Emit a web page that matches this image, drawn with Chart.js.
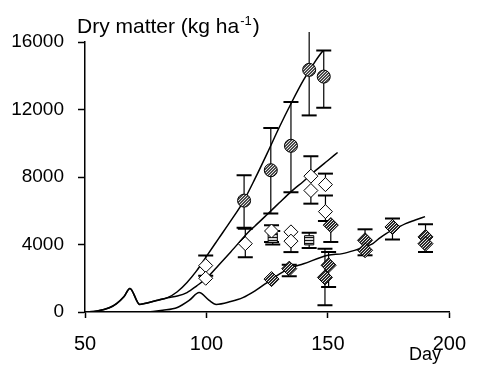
<!DOCTYPE html>
<html>
<head>
<meta charset="utf-8">
<script src="https://cdn.jsdelivr.net/npm/chart.js@4.4.1/dist/chart.umd.min.js"></script>
<style>
  html, body { margin: 0; padding: 0; background: #fff; }
  #wrap { width: 480px; height: 368px; }
</style>
</head>
<body>
<div id="wrap"><canvas id="chart" width="480" height="368"></canvas></div>
<script>
// fitted growth curves
const lineADays = [50, 55, 60, 63, 66, 68.5, 72.5, 76, 80, 84, 88, 92, 96, 100, 105, 110, 115, 120, 125, 130, 135, 140, 145, 148];
const lineADM   = [0, 60, 250, 500, 900, 1400, 450, 550, 700, 850, 1200, 1750, 2450, 3300, 4350, 5400, 6500, 7900, 9400, 10950, 12400, 13750, 14900, 15500];
const lineBDays = [50, 55, 60, 63, 66, 68.5, 72.5, 76, 80, 84, 88, 92, 96, 100, 105, 110, 118, 120, 125, 130, 135, 140, 145, 150, 154];
const lineBDM   = [0, 60, 250, 500, 900, 1400, 450, 550, 700, 850, 950, 1150, 1550, 2000, 2770, 3560, 4840, 5100, 5780, 6470, 7150, 7750, 8390, 8980, 9450];
const lineCDays = [76, 82, 88, 93, 97, 101, 104, 110, 115, 120, 126, 130, 134, 140, 150, 156, 161, 165, 168.5, 171, 174, 178, 182, 186, 190];
const lineCDM   = [0, 100, 270, 700, 1150, 700, 450, 620, 850, 1250, 1850, 2250, 2570, 2860, 3360, 3460, 3650, 3850, 4050, 4350, 4650, 4950, 5240, 5450, 5650];

// observations (filled circles)
const circDays = [115.5, 126.5, 134.8, 142.3, 148.3];
const circDM   = [6600, 8400, 9850, 14350, 13950];
const circLo   = [5000, 5830, 7100, 11650, 12100];
const circHi   = [8100, 10900, 12450, 16600, 15500];

// observations (open diamonds)
const diamDays = [99.7, 99.7, 116, 126.8, 134.8, 134.8, 143, 143, 149, 149];
const diamDM   = [2750, 2000, 4050, 4800, 4750, 4200, 8050, 7200, 7550, 5950];
const diamLo   = [2150, null, 3250, 4150, null, 3550, null, 6420, null, 5400];
const diamHi   = [3350, null, 4940, 5140, null, null, 9230, null, 8200, 6900];

// observations (hatched squares)
const hatchDays = [127.3, 142.3];
const hatchDM   = [4400, 4250];
const hatchLo   = [4000, 3800];
const hatchHi   = [4800, 4700];

// observations (dark diamonds)
const darkDays = [126.8, 134.1, 148.8, 150.3, 151.2, 165.3, 165.3, 176.6, 190.2, 190.2];
const darkDM   = [1950, 2570, 2050, 2770, 5150, 4250, 3660, 5040, 4450, 4050];
const darkLo   = [null, 2115, 400, 1480, 4150, null, 3360, 4290, null, 3555];
const darkHi   = [null, 2800, 3750, 3550, null, 4900, null, 5535, 5200, null];

const SANS = "'Liberation Sans', Arial, sans-serif";

function pts(xs, ys) {
  return xs.map((x, i) => ({ x: x, y: ys[i] }));
}

function makePattern(kind) {
  const c = document.createElement("canvas");
  c.width = 3; c.height = 3;
  const g = c.getContext("2d");
  if (kind === "stripes") {
    g.fillStyle = "#d8d8d8";
    g.fillRect(0, 0, 3, 3);
    g.fillStyle = "#111";
    g.fillRect(0, 0, 3, 1);
  } else {
    g.fillStyle = kind === "dark" ? "#2a2a2a" : "#4a4a4a";
    g.fillRect(0, 0, 3, 3);
    g.fillStyle = "#e6e6e6";
    g.fillRect(0, 0, 1, 1);
    g.fillRect(2, 1, 1, 1);
    g.fillRect(1, 2, 1, 1);
  }
  return g.createPattern(c, "repeat");
}

function lineSet(xs, ys) {
  return {
    data: pts(xs, ys),
    showLine: true,
    borderColor: "#000",
    borderWidth: 1.5,
    pointRadius: 0,
    cubicInterpolationMode: "monotone",
    order: 1
  };
}

function markSet(xs, ys, lo, hi, style, radius, fill) {
  return {
    data: pts(xs, ys),
    showLine: false,
    pointStyle: style,
    pointRadius: radius,
    backgroundColor: fill,
    borderColor: "#000",
    borderWidth: 1,
    errLo: lo,
    errHi: hi,
    order: 0
  };
}

const errorBars = {
  id: "errorBars",
  beforeDatasetsDraw(chart) {
    const ctx = chart.ctx;
    const xs = chart.scales.x, ys = chart.scales.y;
    ctx.save();
    ctx.strokeStyle = "#000";
    chart.data.datasets.forEach(ds => {
      if (!ds.errLo) return;
      ds.data.forEach((p, i) => {
        const px = xs.getPixelForValue(p.x);
        const lo = ds.errLo[i], hi = ds.errHi[i];
        const top = ys.getPixelForValue(hi != null ? hi : p.y);
        const bot = ys.getPixelForValue(lo != null ? lo : p.y);
        ctx.lineWidth = 1.2;
        ctx.beginPath();
        ctx.moveTo(px, top);
        ctx.lineTo(px, bot);
        ctx.stroke();
        ctx.lineWidth = 2;
        ctx.beginPath();
        if (hi != null && hi <= 16000) { ctx.moveTo(px - 7.5, top); ctx.lineTo(px + 7.5, top); }
        if (lo != null) { ctx.moveTo(px - 7.5, bot); ctx.lineTo(px + 7.5, bot); }
        ctx.stroke();
      });
    });
    ctx.restore();
  }
};

const textBits = {
  id: "textBits",
  beforeDraw(chart) {
    const ctx = chart.ctx;
    ctx.save();
    ctx.fillStyle = "#fff";
    ctx.fillRect(0, 0, chart.width, chart.height);
    ctx.restore();
  },
  afterDraw(chart) {
    const ctx = chart.ctx;
    ctx.save();
    ctx.fillStyle = "#000";
    ctx.textBaseline = "alphabetic";
    ctx.font = "21px " + SANS;
    let x = 77;
    const main = "Dry matter (kg ha";
    ctx.fillText(main, x, 33);
    x += ctx.measureText(main).width + 1;
    ctx.font = "13px " + SANS;
    ctx.fillText("-1", x, 25);
    x += ctx.measureText("-1").width + 1;
    ctx.font = "21px " + SANS;
    ctx.fillText(")", x, 33);
    ctx.font = "18px " + SANS;
    ctx.textAlign = "center";
    ctx.fillText("Day", 425, 360);
    ctx.restore();
  }
};

new Chart(document.getElementById("chart"), {
  type: "scatter",
  data: {
    datasets: [
      lineSet(lineADays, lineADM),
      lineSet(lineBDays, lineBDM),
      lineSet(lineCDays, lineCDM),
      markSet(circDays, circDM, circLo, circHi, "circle", 6.5, makePattern("grey")),
      markSet(diamDays, diamDM, diamLo, diamHi, "rectRot", 7, "#fff"),
      markSet(hatchDays, hatchDM, hatchLo, hatchHi, "rect", 6.5, makePattern("stripes")),
      markSet(darkDays, darkDM, darkLo, darkHi, "rectRot", 7.5, makePattern("dark"))
    ]
  },
  options: {
    responsive: false,
    animation: false,
    devicePixelRatio: 1,
    layout: { padding: { top: 42, right: 18, left: 0, bottom: 0 } },
    plugins: {
      legend: { display: false },
      tooltip: { enabled: false },
      title: { display: false }
    },
    scales: {
      x: {
        type: "linear",
        min: 50,
        max: 200,
        afterFit(scale) { scale.height = 56; },
        ticks: {
          stepSize: 50,
          color: "#000",
          padding: 14,
          font: { family: SANS, size: 20 },
          callback: v => String(v)
        },
        grid: { drawOnChartArea: false, tickLength: 6, tickColor: "#000", tickWidth: 1.5 },
        border: { color: "#000", width: 1.5 }
      },
      y: {
        min: 0,
        max: 16000,
        afterFit(scale) { scale.width = 85; },
        ticks: {
          stepSize: 4000,
          color: "#000",
          padding: 14,
          font: { family: SANS, size: 19 },
          callback: v => String(v)
        },
        grid: { drawOnChartArea: false, tickLength: 7, tickColor: "#000", tickWidth: 1.5 },
        border: { color: "#000", width: 1.5 }
      }
    }
  },
  plugins: [errorBars, textBits]
});
</script>
</body>
</html>
